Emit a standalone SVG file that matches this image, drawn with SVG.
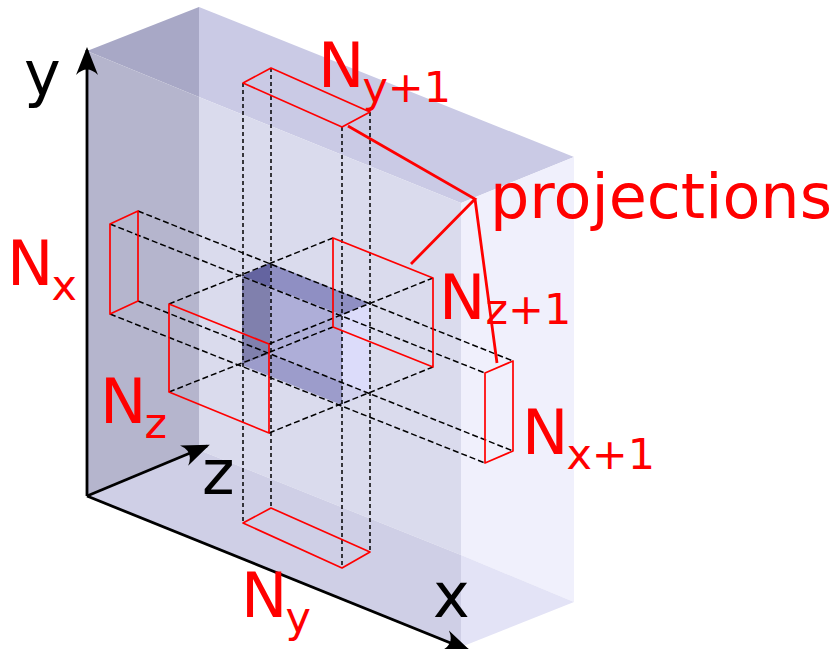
<svg xmlns="http://www.w3.org/2000/svg" width="832" height="649" viewBox="0 0 832 649">
<style>
.r{fill:none;stroke:#f00;stroke-width:1.7;stroke-linejoin:round}
.d{fill:none;stroke:#000;stroke-width:1.5;stroke-dasharray:4 3}
.d2{fill:none;stroke:#000;stroke-width:1.5;stroke-dasharray:6 3}
.p{fill:none;stroke:#f00;stroke-width:2.8}
.a{fill:none;stroke:#000;stroke-width:2.8}
text{font-family:"DejaVu Sans",sans-serif}
.l{font-size:62px;fill:#f00}
.s{font-size:43px}
.k{font-size:62px;fill:#000}
</style>
<defs><marker id="ah" markerUnits="userSpaceOnUse" markerWidth="30" markerHeight="24" refX="25" refY="11.5" orient="auto"><path d="M0 0.5 L28 11.5 L0 22.5 Q11 11.5 0 0.5Z" fill="#000"/></marker></defs>
<g id="box">
<polygon points="87,51 199,7 199,97" fill="#a8a8c6"/>
<polygon points="199,7 574,157 461,203 199,97" fill="#cacae5"/>
<polygon points="87,51 199,97 199,450 87,496" fill="#b5b5cd"/>
<polygon points="199,97 461,203 461,555 199,450" fill="#dadbed"/>
<polygon points="461,203 574,157 574,602 461,555" fill="#f0f0fc"/>
<polygon points="87,496 199,450 461,555 461,647" fill="#cfcfe6"/>
<polygon points="461,555 574,602 461,647" fill="#e3e3f6"/>
</g>
<g id="core">
<polygon points="242,276 270,263 270,287" fill="#6464a0"/>
<polygon points="270,263 369,303 342,315 270,287" fill="#8f8fc3"/>
<polygon points="242,276 270,287 270,354 242,365" fill="#8080ad"/>
<polygon points="270,287 342,315 342,382 270,354" fill="#aeaed8"/>
<polygon points="342,315 369,303 369,393 342,382" fill="#dcdcfa"/>
<polygon points="242,365 270,354 342,382 342,405" fill="#9c9ccb"/>
<polygon points="342,382 369,393 342,405" fill="#d0d0ee"/>
</g>
<g id="connectors">
<path class="d" d="M243 83V523M271 68V508M342 127V568M370 112V552"/>
<path class="d2" d="M110 224L485 373M138 211L513 361M110 314L485 463M138 301L513 451"/>
<path class="d2" d="M169 304L333 238M269 344L433 278M169 392L333 327M269 433L433 367"/>
<path class="a" d="M87 496V50" marker-end="url(#ah)"/>
<path class="a" d="M87 496L207 446" marker-end="url(#ah)"/>
<path class="a" d="M87 496L468 650" marker-end="url(#ah)"/>
<path class="p" d="M348 126L475 199L411 264M475 199L497 363"/>
</g>
<g id="Nyp"><polygon class="r" points="243,83 271,68 370,112 342,127"/><text class="l" x="318" y="87">N<tspan class="s" dx="-2" dy="15">y+1</tspan></text></g>
<g id="Ny"><polygon class="r" points="243,523 271,508 370,552 342,568"/><text class="l" x="241" y="617">N<tspan class="s" dx="-2" dy="15">y</tspan></text></g>
<g id="Nx"><polygon class="r" points="110,224 138,211 138,301 110,314"/><text class="l" x="7" y="285">N<tspan class="s" dx="-2" dy="15">x</tspan></text></g>
<g id="Nxp"><polygon class="r" points="485,373 513,361 513,451 485,463"/><text class="l" x="522" y="454">N<tspan class="s" dx="-2" dy="15">x+1</tspan></text></g>
<g id="Nz"><polygon class="r" points="169,304 269,344 269,433 169,392"/><text class="l" x="100" y="423">N<tspan class="s" dx="-2" dy="15">z</tspan></text></g>
<g id="Nzp"><polygon class="r" points="333,238 433,278 433,367 333,327"/><text class="l" x="439" y="319">N<tspan class="s" dy="5">z+1</tspan></text></g>
<text class="k" x="24" y="95">y</text>
<text class="k" x="202" y="494">z</text>
<text class="k" x="433" y="617">x</text>
<text class="l" x="490" y="218">projections</text>
</svg>
